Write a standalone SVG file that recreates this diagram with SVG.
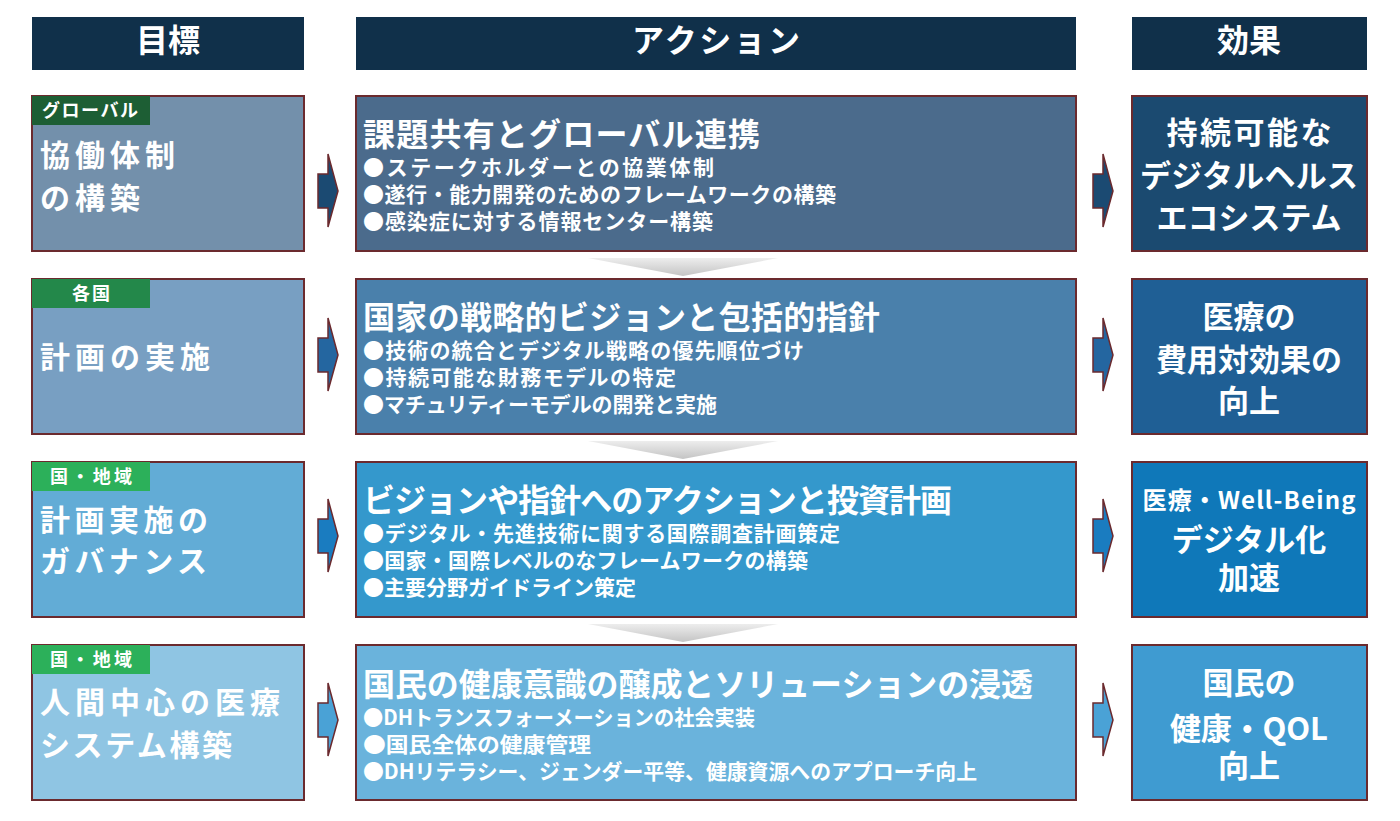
<svg xmlns="http://www.w3.org/2000/svg" width="1400" height="821" viewBox="0 0 1400 821">
<defs>
<style>
text{font-family:"Noto Sans CJK JP","Noto Sans",sans-serif;font-weight:bold;fill:#ffffff}
.hdr{fill:#10304a}
.box{stroke:#6b2a2e;stroke-width:2}
.arr{stroke:#6b2a2e;stroke-width:1.5;stroke-linejoin:miter}
.hd{font-size:32px;text-anchor:middle}
.goal{font-size:30px}
.badge{font-size:18px;text-anchor:middle}
.title{font-size:32px}
.bul{font-size:21px}
.eff{font-size:31px;text-anchor:middle}
.chev{fill:url(#cg)}
</style>
<linearGradient id="cg" x1="0" y1="0" x2="0" y2="1">
<stop offset="0" stop-color="#ededed"/>
<stop offset="1" stop-color="#c4c4c4"/>
</linearGradient>
<polygon id="arrowL" points="0,-17 10,-17 10,-37 20,0 10,36 10,17 0,17"/>
</defs>
<rect width="1400" height="821" fill="#ffffff"/>

<g id="headers">
<rect class="hdr" x="32" y="17" width="272" height="53"/>
<text class="hd" x="168" y="52">目標</text>
<rect class="hdr" x="356" y="17" width="720" height="53"/>
<text class="hd" x="716" y="52" textLength="168">アクション</text>
<rect class="hdr" x="1132" y="17" width="235" height="53"/>
<text class="hd" x="1249" y="52">効果</text>
</g>

<g id="connectors">
<polygon class="chev" points="588,258 778,258 683,276"/>
<polygon class="chev" points="588,441 778,441 683,459"/>
<polygon class="chev" points="588,624 778,624 683,642"/>
<use href="#arrowL" x="318" y="191" class="arr" fill="#1b4a72"/>
<use href="#arrowL" x="318" y="355" class="arr" fill="#2466a0"/>
<use href="#arrowL" x="318" y="536" class="arr" fill="#1a7cc0"/>
<use href="#arrowL" x="318" y="720" class="arr" fill="#4aa2d6"/>
<use href="#arrowL" x="1093" y="191" class="arr" fill="#1b4a72"/>
<use href="#arrowL" x="1093" y="355" class="arr" fill="#2466a0"/>
<use href="#arrowL" x="1093" y="536" class="arr" fill="#1a7cc0"/>
<use href="#arrowL" x="1093" y="720" class="arr" fill="#4aa2d6"/>
</g>

<g id="goal1">
<rect class="box" x="32" y="96" width="272" height="155" fill="#7390ab"/>
<rect x="32" y="96" width="118" height="29" fill="#1d5e34"/>
<text class="badge" x="90" y="117" textLength="96">グローバル</text>
<text class="goal" x="40" y="166" textLength="135">協働体制</text>
<text class="goal" x="40" y="209" textLength="100">の構築</text>
</g>
<g id="goal2">
<rect class="box" x="32" y="279" width="272" height="155" fill="#789fc2"/>
<rect x="32" y="279" width="118" height="29" fill="#23884a"/>
<text class="badge" x="91" y="300" textLength="38">各国</text>
<text class="goal" x="40" y="368" textLength="170">計画の実施</text>
</g>
<g id="goal3">
<rect class="box" x="32" y="462" width="272" height="155" fill="#62acd6"/>
<rect x="32" y="462" width="118" height="29" fill="#2cb05a"/>
<text class="badge" x="91" y="483" textLength="82">国・地域</text>
<text class="goal" x="40" y="531" textLength="168">計画実施の</text>
<text class="goal" x="40" y="572" textLength="167">ガバナンス</text>
</g>
<g id="goal4">
<rect class="box" x="32" y="645" width="272" height="155" fill="#8fc5e3"/>
<rect x="32" y="645" width="118" height="29" fill="#2cb05a"/>
<text class="badge" x="91" y="666" textLength="82">国・地域</text>
<text class="goal" x="40" y="713" textLength="240">人間中心の医療</text>
<text class="goal" x="40" y="756" textLength="192">システム構築</text>
</g>

<g id="action1">
<rect class="box" x="356" y="96" width="720" height="155" fill="#4b6b8c"/>
<text class="title" x="363" y="146" textLength="397">課題共有とグローバル連携</text>
<text class="bul" x="363" y="175" textLength="351">●ステークホルダーとの協業体制</text>
<text class="bul" x="363" y="202" textLength="473">●遂行・能力開発のためのフレームワークの構築</text>
<text class="bul" x="363" y="229" textLength="350">●感染症に対する情報センター構築</text>
</g>
<g id="action2">
<rect class="box" x="356" y="279" width="720" height="155" fill="#4a80ab"/>
<text class="title" x="363" y="329" textLength="517">国家の戦略的ビジョンと包括的指針</text>
<text class="bul" x="363" y="358" textLength="441">●技術の統合とデジタル戦略の優先順位づけ</text>
<text class="bul" x="363" y="385" textLength="313">●持続可能な財務モデルの特定</text>
<text class="bul" x="363" y="412" textLength="354">●マチュリティーモデルの開発と実施</text>
</g>
<g id="action3">
<rect class="box" x="356" y="462" width="720" height="155" fill="#3498cc"/>
<text class="title" x="363" y="512" textLength="589">ビジョンや指針へのアクションと投資計画</text>
<text class="bul" x="363" y="541" textLength="477">●デジタル・先進技術に関する国際調査計画策定</text>
<text class="bul" x="363" y="568" textLength="445">●国家・国際レベルのなフレームワークの構築</text>
<text class="bul" x="363" y="595" textLength="273">●主要分野ガイドライン策定</text>
</g>
<g id="action4">
<rect class="box" x="356" y="645" width="720" height="155" fill="#6ab3dc"/>
<text class="title" x="363" y="696" textLength="670" lengthAdjust="spacingAndGlyphs">国民の健康意識の醸成とソリューションの浸透</text>
<text class="bul" x="363" y="725" textLength="392" lengthAdjust="spacingAndGlyphs">●DHトランスフォーメーションの社会実装</text>
<text class="bul" x="363" y="752" textLength="228" lengthAdjust="spacingAndGlyphs">●国民全体の健康管理</text>
<text class="bul" x="363" y="779" textLength="614" lengthAdjust="spacingAndGlyphs">●DHリテラシー、ジェンダー平等、健康資源へのアプローチ向上</text>
</g>

<g id="effect1">
<rect class="box" x="1132" y="96" width="235" height="155" fill="#1b4a70"/>
<text class="eff" x="1249" y="144" textLength="165">持続可能な</text>
<text class="eff" x="1249" y="187" textLength="218">デジタルヘルス</text>
<text class="eff" x="1249" y="229">エコシステム</text>
</g>
<g id="effect2">
<rect class="box" x="1132" y="279" width="235" height="155" fill="#1f5f95"/>
<text class="eff" x="1249" y="328">医療の</text>
<text class="eff" x="1249" y="371">費用対効果の</text>
<text class="eff" x="1249" y="412">向上</text>
</g>
<g id="effect3">
<rect class="box" x="1132" y="462" width="235" height="155" fill="#0f78b9"/>
<text class="eff" x="1249" y="509" style="font-size:24px" textLength="213">医療・Well-Being</text>
<text class="eff" x="1249" y="551">デジタル化</text>
<text class="eff" x="1249" y="589">加速</text>
</g>
<g id="effect4">
<rect class="box" x="1132" y="645" width="235" height="155" fill="#3f9bd1"/>
<text class="eff" x="1249" y="694">国民の</text>
<text class="eff" x="1249" y="740" textLength="158">健康・QOL</text>
<text class="eff" x="1249" y="777">向上</text>
</g>
</svg>
